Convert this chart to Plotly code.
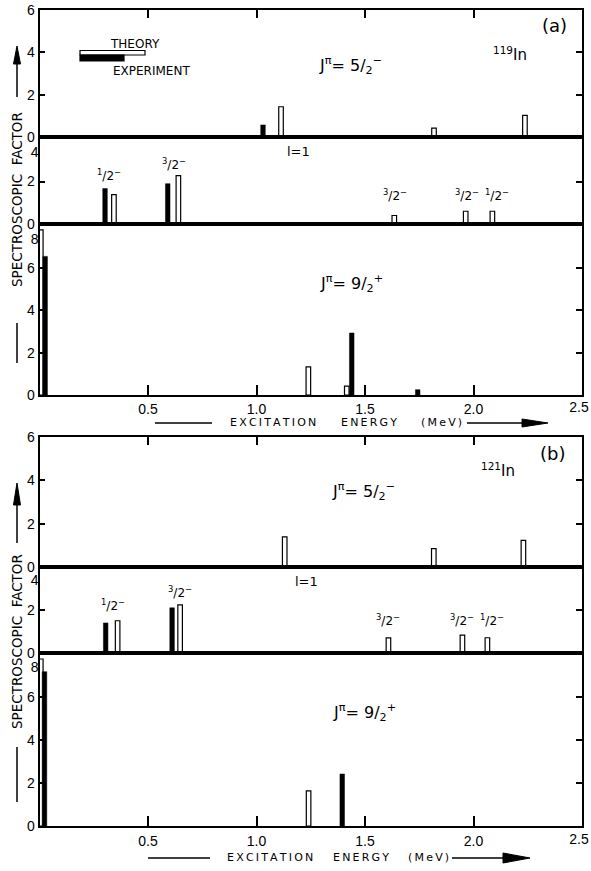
import plotly.graph_objects as go

W, H = 591, 871
def px(x): return x / W
def py(y): return 1 - y / H

# ---------------- data (excitation energy MeV, spectroscopic factor) ----------------
# Panel (a) 119In
A_TOP_TH_E = [1.113, 1.818, 2.237]
A_TOP_TH_S = [1.43, 0.42, 1.02]
A_TOP_EX_E = [1.030]
A_TOP_EX_S = [0.57]
A_MID_TH_E = [0.343, 0.640, 1.635, 1.964, 2.087]
A_MID_TH_S = [1.38, 2.28, 0.40, 0.60, 0.60]
A_MID_EX_E = [0.302, 0.591]
A_MID_EX_S = [1.67, 1.90]
A_BOT_TH_E = [0.006, 1.239, 1.416]
A_BOT_TH_S = [7.80, 1.33, 0.42]
A_BOT_EX_E = [0.026, 1.439, 1.743]
A_BOT_EX_S = [6.55, 2.93, 0.25]
# Panel (b) 121In
B_TOP_TH_E = [1.130, 1.817, 2.230]
B_TOP_TH_S = [1.39, 0.85, 1.23]
B_TOP_EX_E = []
B_TOP_EX_S = []
B_MID_TH_E = [0.360, 0.648, 1.608, 1.949, 2.064]
B_MID_TH_S = [1.50, 2.24, 0.70, 0.83, 0.71]
B_MID_EX_E = [0.305, 0.611]
B_MID_EX_S = [1.40, 2.10]
B_BOT_TH_E = [0.006, 1.240]
B_BOT_TH_S = [7.77, 1.63]
B_BOT_EX_E = [0.023, 1.395]
B_BOT_EX_S = [7.18, 2.42]

# spin labels: (energy, level, numerator) for l=1 subplots
SPIN = "<sup>{}</sup>/2<sup>−</sup>"
A_MID_LABELS = [(0.318, 2.32, "1"), (0.622, 2.82, "3"), (1.638, 1.35, "3"), (1.969, 1.35, "3"), (2.107, 1.35, "1")]
B_MID_LABELS = [(0.338, 2.25, "1"), (0.647, 2.84, "3"), (1.608, 1.55, "3"), (1.949, 1.55, "3"), (2.087, 1.55, "1")]

X_TICKS = [0.5, 1.0, 1.5, 2.0]
X_TICKTEXT = ["0.5", "1.0", "1.5", "2.0"]
X_END_TICK = [2.5]
X_END_TEXT = ["2.5"]

FONT = "DejaVu Sans"
NUMFONT = "Liberation Sans"
BW = 0.021
TS = "\u2009"
def spaced(s):
    return TS.join(list(s))

rows = [
    (10, 137, 6.0, [0, 2, 4, 6], None),
    (137, 224, 4.1, [0, 2], 4),
    (224, 395, 8.08, [0, 2, 4, 6], 8),
    (437, 567, 6.0, [0, 2, 4, 6], None),
    (567, 653, 4.0, [0, 2], 4),
    (653, 826, 8.05, [0, 2, 4, 6], 8),
]
data = [
    (A_TOP_TH_E, A_TOP_TH_S, A_TOP_EX_E, A_TOP_EX_S),
    (A_MID_TH_E, A_MID_TH_S, A_MID_EX_E, A_MID_EX_S),
    (A_BOT_TH_E, A_BOT_TH_S, A_BOT_EX_E, A_BOT_EX_S),
    (B_TOP_TH_E, B_TOP_TH_S, B_TOP_EX_E, B_TOP_EX_S),
    (B_MID_TH_E, B_MID_TH_S, B_MID_EX_E, B_MID_EX_S),
    (B_BOT_TH_E, B_BOT_TH_S, B_BOT_EX_E, B_BOT_EX_S),
]

fig = go.Figure()
layout = dict(
    width=W, height=H, margin=dict(l=0, r=0, t=0, b=0, autoexpand=False),
    paper_bgcolor="white", plot_bgcolor="rgba(0,0,0,0)",
    barmode="overlay", showlegend=False,
    font=dict(family=FONT, color="black", size=13),
)
XD = [px(39.5), px(582)]
axis_line = dict(showline=True, linecolor="black", linewidth=1.6, showgrid=False, zeroline=False,
                 automargin=False, fixedrange=True)
TICKFONT = dict(size=14, family=NUMFONT, color="black")

def ghost(xa, ya):
    fig.add_trace(go.Scatter(x=[0], y=[0], xaxis=xa, yaxis=ya, mode="markers",
                             marker=dict(opacity=0), hoverinfo="skip"))

overlay_idx = 7
for i, ((t, b, ytop, tv, ovl), (te, ts, ee, es)) in enumerate(zip(rows, data), start=1):
    xs = "" if i == 1 else str(i)
    if te:
        fig.add_trace(go.Bar(x=te, y=ts, width=[BW] * len(te), xaxis="x" + xs, yaxis="y" + xs,
                             marker=dict(color="white", line=dict(color="black", width=1.2)), hoverinfo="skip"))
    if ee:
        fig.add_trace(go.Bar(x=ee, y=es, width=[BW] * len(ee), xaxis="x" + xs, yaxis="y" + xs,
                             marker=dict(color="black", line=dict(color="black", width=0.5)), hoverinfo="skip"))
    pos = i if i <= 3 else i - 3
    xa = dict(axis_line, domain=XD, range=[0, 2.5], anchor="y" + xs, mirror=True)
    stand = 0 if i == 3 else 1
    if pos == 1:
        xa.update(side="top", ticks="inside", ticklen=8, tickwidth=1.5, tickcolor="black",
                  tickvals=X_TICKS, showticklabels=False)
    elif pos == 2:
        xa.update(ticks="", showticklabels=False)
    else:
        xa.update(side="bottom", ticks="inside", ticklen=10, tickwidth=1.5, tickcolor="black",
                  tickvals=X_TICKS, ticktext=X_TICKTEXT, showticklabels=True,
                  tickfont=TICKFONT, ticklabelstandoff=stand)
    ya = dict(axis_line, domain=[py(b), py(t)], range=[0, ytop], anchor="x" + xs,
              ticks="inside", ticklen=6, tickwidth=1.5, tickcolor="black", mirror="ticks",
              tickvals=tv, tickfont=TICKFONT, ticklabelstandoff=0)
    layout["xaxis" + xs] = xa
    layout["yaxis" + xs] = ya
    if ovl is not None:
        oi = str(overlay_idx)
        overlay_idx += 1
        layout["yaxis" + oi] = dict(overlaying="y" + xs, anchor="x" + xs, side="left",
                                    range=[0, ytop], tickvals=[ovl], ticks="", showline=False,
                                    showgrid=False, zeroline=False, ticklabelshift=13,
                                    ticklabelstandoff=0, tickfont=TICKFONT,
                                    fixedrange=True, automargin=False)
        ghost("x" + xs, "y" + oi)
    if pos == 3:
        # end label "2.5", nudged left so it stays inside the page
        oi = str(overlay_idx)
        overlay_idx += 1
        layout["xaxis" + oi] = dict(overlaying="x" + xs, anchor="y" + xs, side="bottom",
                                    range=[0, 2.5], tickvals=X_END_TICK, ticktext=X_END_TEXT,
                                    ticks="", showline=False, showgrid=False, zeroline=False,
                                    ticklabelshift=-3, ticklabelstandoff=stand + 2, tickfont=TICKFONT,
                                    fixedrange=True, automargin=False)
        ghost("x" + oi, "y" + xs)

annotations = []
def ann(x, y, text, size=13, **kw):
    d = dict(x=px(x), y=py(y), xref="paper", yref="paper", text=text, showarrow=False,
             font=dict(size=size, family=FONT, color="black"), xanchor="center", yanchor="middle")
    d.update(kw)
    annotations.append(d)

for (lab, xr, yr) in [(A_MID_LABELS, "x2", "y2"), (B_MID_LABELS, "x5", "y5")]:
    for e, s, n in lab:
        annotations.append(dict(x=e, y=s, xref=xr, yref=yr, text=SPIN.format(n), showarrow=False,
                                font=dict(size=12, family=FONT, color="black")))
annotations.append(dict(x=1.193, y=3.41, xref="x2", yref="y2", text="l=1", showarrow=False,
                        font=dict(size=13, family=FONT, color="black")))
annotations.append(dict(x=1.231, y=3.33, xref="x5", yref="y5", text="l=1", showarrow=False,
                        font=dict(size=13, family=FONT, color="black")))

J52 = "J<sup>π</sup>= 5/<sub>2</sub><sup>−</sup>"
J92 = "J<sup>π</sup>= 9/<sub>2</sub><sup>+</sup>"
ann(350, 66, J52, 16)
ann(351, 283, J92, 16)
ann(363, 491, J52, 16)
ann(364, 712, J92, 16)
ann(554, 26, "(a)", 18)
ann(552, 453, "(b)", 18)
ann(510, 54, "<sup>119</sup>In", 15)
ann(498, 470, "<sup>121</sup>In", 15)
ann(134.5, 44, "THEORY", 12)
ann(151.5, 71, "EXPERIMENT", 12)
for (cx1, cx2, cx3, cy) in [(272.5, 368.5, 441.5, 422.5), (270, 361, 428, 857)]:
    ann(cx1, cy, spaced("EXCITATION"), 11)
    ann(cx2, cy, spaced("ENERGY"), 11)
    ann(cx3, cy, spaced("(MeV)"), 11)
ann(17, 200, "SPECTROSCOPIC  FACTOR", 13.5, textangle=-90)
ann(17, 642, "SPECTROSCOPIC  FACTOR", 13.5, textangle=-90)
layout["annotations"] = annotations

shapes = []
def line(x0, y0, x1, y1, w=1.5):
    shapes.append(dict(type="line", xref="paper", yref="paper", x0=px(x0), y0=py(y0), x1=px(x1), y1=py(y1),
                       line=dict(color="black", width=w)))
def tri(pts):
    path = "M " + " L ".join(f"{px(a):.5f},{py(b):.5f}" for a, b in pts) + " Z"
    shapes.append(dict(type="path", xref="paper", yref="paper", path=path,
                       fillcolor="black", line=dict(color="black", width=1)))
def rect(x0, y0, x1, y1, fill):
    shapes.append(dict(type="rect", xref="paper", yref="paper", x0=px(x0), y0=py(y0), x1=px(x1), y1=py(y1),
                       fillcolor=fill, line=dict(color="black", width=1.2)))

rect(80, 50.5, 145, 55, "white")
rect(80, 55, 124, 61, "black")
line(17, 63, 17, 97)
tri([(17, 46), (13.5, 64), (20.5, 64)])
line(17, 323, 17, 363)
line(17, 505, 17, 543)
tri([(17, 483), (13.5, 505), (20.5, 505)])
line(17, 747, 17, 802)
line(155, 423, 212, 423)
line(467, 423, 525, 423)
tri([(548, 423), (522, 419), (522, 427)])
line(148, 858, 210, 858)
line(452, 858, 505, 858)
tri([(530, 858), (503, 853), (503, 863)])
layout["shapes"] = shapes

fig.update_layout(**layout)
fig.write_html("out.html")
